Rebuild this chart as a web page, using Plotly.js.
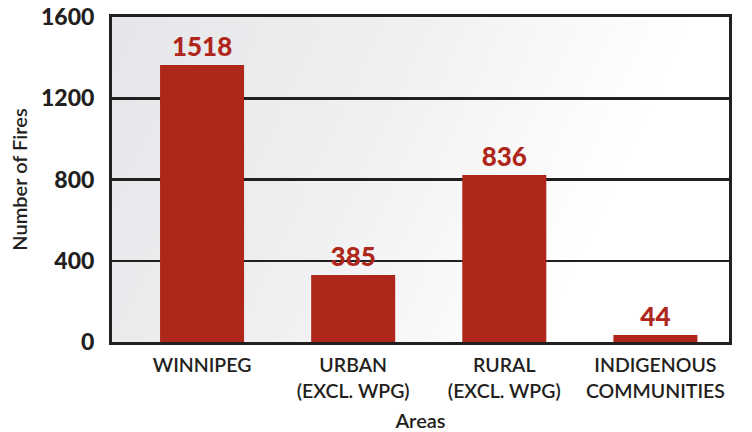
<!DOCTYPE html>
<html>
<head>
<meta charset="utf-8">
<script src="https://cdn.plot.ly/plotly-3.0.1.min.js"></script>
<style>html,body{margin:0;padding:0;background:#fff;}#chart{width:752px;height:432px;}</style>
</head>
<body>
<div id="chart"></div>
<script>
// Categories (tick labels)
var categories = ["WINNIPEG", "URBAN<br>(EXCL. WPG)", "RURAL<br>(EXCL. WPG)", "INDIGENOUS<br>COMMUNITIES"];
// Bar heights as drawn in the picture
var barHeights = [1364, 330, 822, 34];
// Value labels printed above the bars
var valueLabels = ["1518", "385", "836", "44"];
var yTicks = [0, 400, 800, 1200, 1600];

// gradient background image
var cv = document.createElement('canvas');
cv.width = 617; cv.height = 325;
var ctx = cv.getContext('2d');
var g = ctx.createLinearGradient(0, 0, 560, 260);
g.addColorStop(0, '#e5e6e9');
g.addColorStop(0.45, '#f0f0f2');
g.addColorStop(0.85, '#ffffff');
g.addColorStop(1, '#ffffff');
ctx.fillStyle = g;
ctx.fillRect(0, 0, cv.width, cv.height);
var bgUrl = cv.toDataURL('image/png');

var dark = '#231f20';
var red = '#af271b';

var trace = {
  type: 'bar',
  x: categories,
  y: barHeights,
  text: valueLabels,
  textposition: 'outside',
  cliponaxis: false,
  textfont: {family: 'Lato, sans-serif', size: 26, color: red, weight: 900},
  marker: {color: red, line: {width: 0}},
  width: 0.556,
  hoverinfo: 'none'
};

var layout = {
  width: 752, height: 432,
  margin: {l: 112, r: 23, t: 17, b: 90},
  paper_bgcolor: '#ffffff',
  plot_bgcolor: 'rgba(0,0,0,0)',
  showlegend: false,
  images: [{source: bgUrl, xref: 'paper', yref: 'paper', x: 0, y: 1, sizex: 1, sizey: 1,
            sizing: 'stretch', xanchor: 'left', yanchor: 'top', layer: 'below'}],
  xaxis: {
    type: 'category',
    range: [-0.596, 3.487],
    showgrid: false,
    showline: true, mirror: true, linecolor: dark, linewidth: 3,
    ticks: '',
    ticklabelstandoff: 4,
    tickfont: {family: 'Lato, sans-serif', size: 19.5, color: dark, weight: 600},
    title: {text: 'Areas', font: {family: 'Lato, sans-serif', size: 20, color: dark, weight: 600}, standoff: 21},
    fixedrange: true
  },
  yaxis: {
    range: [0, 1600],
    tickvals: yTicks,
    ticktext: yTicks.map(String),
    showgrid: true, gridcolor: dark, gridwidth: 2.5,
    zeroline: false,
    showline: true, mirror: true, linecolor: dark, linewidth: 3,
    ticks: '',
    ticklabelstandoff: 10,
    tickfont: {family: 'Lato, sans-serif', size: 23, color: dark, weight: 900},
    title: {text: 'Number of Fires', font: {family: 'Lato, sans-serif', size: 20, color: dark, weight: 600}, standoff: 9},
    fixedrange: true
  },
  bargap: 0.45
};

Plotly.newPlot('chart', [trace], layout, {displayModeBar: false, staticPlot: true});
</script>
</body>
</html>
